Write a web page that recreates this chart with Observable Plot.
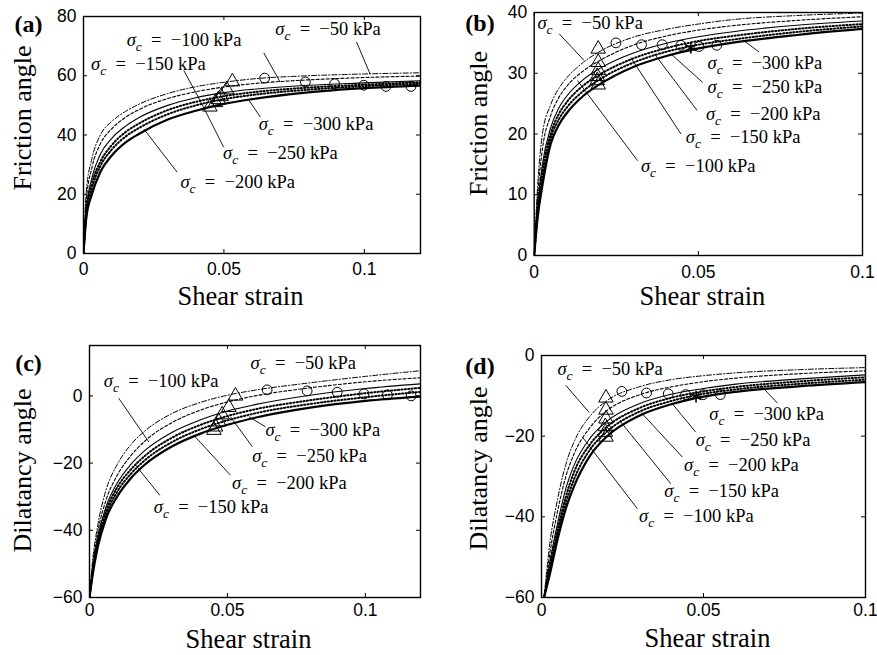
<!DOCTYPE html>
<html><head><meta charset="utf-8">
<script src="https://cdn.jsdelivr.net/npm/d3@7"></script>
<script src="https://cdn.jsdelivr.net/npm/@observablehq/plot@0.6"></script>
<style>
html,body{margin:0;padding:0;background:#fff;}
#wrap{position:relative;width:877px;height:655px;overflow:hidden;background:#fff;}
#wrap svg{position:absolute;overflow:visible;}
</style></head><body><div id="wrap"></div>
<script>
// ---------- data ----------
const sigmaLabels = ["σc\u2002=\u2002−50 kPa","σc\u2002=\u2002−100 kPa","σc\u2002=\u2002−150 kPa",
                     "σc\u2002=\u2002−200 kPa","σc\u2002=\u2002−250 kPa","σc\u2002=\u2002−300 kPa"];

// (a) friction angle, panel a
const xA = [0, 0.001, 0.003, 0.006, 0.01, 0.015, 0.02, 0.03, 0.04, 0.05, 0.06, 0.08, 0.1, 0.12];
const a50  = [0, 21, 32, 40, 44.5, 48, 50.5, 54, 56.3, 57.8, 58.9, 60, 60.6, 61];
const a100 = [0, 18, 29, 37, 42, 46, 48.7, 52.3, 54.6, 56.2, 57.3, 58.6, 59.4, 59.9];
const a150 = [0, 15, 25.5, 33.5, 38.8, 43, 46, 50, 52.6, 54.3, 55.4, 56.8, 57.6, 58.3];
const a200 = [0, 14, 23.5, 31, 36.5, 41, 44, 48.4, 51.2, 53.1, 54.4, 56, 57, 57.8];
const a250 = [0, 13, 22, 29.5, 35, 39.5, 42.5, 47, 50, 52.1, 53.5, 55.3, 56.5, 57.3];
const a300 = [0, 12, 20, 27.5, 33, 37.5, 40.5, 45.2, 48.2, 50.5, 52.1, 54.4, 55.8, 56.7];
const triA  = [[0.053,58],[0.051,55.3],[0.049,53],[0.048,52],[0.047,51],[0.045,49.5]];
const circA = [[0.0645,59.2],[0.079,57.9],[0.0894,57.3],[0.0998,56.8],[0.1077,56.4],[0.1166,56.4]];

// (b) friction angle, panel b
const xB = [0, 0.001, 0.0025, 0.005, 0.0075, 0.01, 0.015, 0.02, 0.03, 0.04, 0.05, 0.06, 0.08, 0.1];
const b50  = [0, 11, 20, 24.8, 27.5, 29.3, 31.8, 33.6, 35.9, 37.2, 38.1, 38.8, 39.5, 39.9];
const b100 = [0, 9.5, 17.5, 23, 26, 27.9, 30.4, 32.1, 34.6, 36.1, 37.1, 37.8, 38.7, 39.3];
const b150 = [0, 8, 15, 21, 24.3, 26.3, 29, 30.8, 33.3, 34.9, 36, 36.8, 37.9, 38.6];
const b200 = [0, 7.3, 13.8, 20, 23.3, 25.3, 28, 29.8, 32.4, 34.1, 35.3, 36.1, 37.3, 38.1];
const b250 = [0, 6.6, 12.6, 19.2, 22.4, 24.4, 27.1, 29, 31.7, 33.5, 34.7, 35.5, 36.8, 37.7];
const b300 = [0, 6, 11.5, 18.3, 21.5, 23.5, 26.3, 28.2, 31, 32.8, 34.1, 35, 36.3, 37.3];
const triB  = [[0.0195,34],[0.0195,31.8],[0.0195,30.5],[0.0192,29.5],[0.0192,28.8],[0.0195,28.1]];
const circB = [[0.0249,35],[0.0327,34.7],[0.039,34.7],[0.0447,34.6],[0.0502,34.4],[0.0556,34.6]];
const starB = [[0.0477,34.2]];

// (c) dilatancy angle, panel c
const xC = [0, 0.001, 0.003, 0.006, 0.01, 0.015, 0.02, 0.03, 0.04, 0.05, 0.06, 0.08, 0.1, 0.12];
const c50  = [-60, -50, -38.5, -28, -20.5, -14.5, -10.5, -5.2, -2, 0.2, 1.7, 3.9, 5.8, 7.5];
const c100 = [-60, -51.5, -40.5, -31, -23.7, -17.8, -13.5, -7.9, -4.3, -1.8, 0, 2.4, 4.2, 5.4];
const c150 = [-60, -52.5, -42, -33, -26, -20.4, -16.3, -10.8, -7.2, -4.5, -2.6, 0.2, 2.2, 3.6];
const c200 = [-60, -53, -43, -34.2, -27.3, -21.9, -17.9, -12.4, -8.7, -6, -4, -1.3, 0.8, 2.4];
const c250 = [-60, -53.5, -44, -35.3, -28.6, -23.2, -19.2, -13.7, -10, -7.3, -5.2, -2.4, -0.4, 1.2];
const c300 = [-60, -54, -45, -36.5, -30, -24.5, -20.5, -15, -11.3, -8.6, -6.5, -3.5, -1.5, -0.2];
const triC  = [[0.0529,0],[0.0505,-3.4],[0.0481,-5.6],[0.0469,-7.7],[0.0457,-9.2],[0.0451,-10.2]];
const circC = [[0.0644,1.8],[0.0789,1.5],[0.0898,1.1],[0.0995,0.6],[0.108,0.3],[0.1166,0]];

// (d) dilatancy angle, panel d
const xD = [0.0008, 0.0025, 0.005, 0.0075, 0.01, 0.015, 0.02, 0.03, 0.04, 0.05, 0.06, 0.08, 0.1];
const d50  = [-60, -47, -35.5, -27, -21.5, -15, -11.3, -7.8, -6, -5, -4.3, -3.5, -3.0];
const d100 = [-60, -49.5, -38.5, -30, -24.5, -17.8, -13.8, -9.8, -7.8, -6.5, -5.6, -4.5, -3.8];
const d150 = [-60, -51.5, -41.5, -33, -27.3, -20.5, -16.4, -12, -9.6, -8.2, -7.1, -5.8, -4.8];
const d200 = [-60, -52.5, -43, -35, -29, -22, -17.8, -13.1, -10.5, -8.9, -7.8, -6.4, -5.4];
const d250 = [-60, -53.5, -44, -36.5, -30.8, -23.3, -19, -14, -11.3, -9.5, -8.4, -7, -6.0];
const d300 = [-60, -54.5, -45.5, -38, -32.5, -24.8, -20.2, -15, -12.1, -10.2, -9.0, -7.6, -6.6];
const triD  = [[0.0199,-10.5],[0.0199,-13.5],[0.0199,-15.7],[0.0197,-17.6],[0.0197,-19],[0.0199,-20.2]];
const circD = [[0.0248,-8.9],[0.0324,-9.3],[0.0391,-9.5],[0.0445,-9.7],[0.0499,-9.7],[0.0552,-9.7]];
const starD = [[0.0477,-10.2]];

// tick values
const xTicksA = [0, 0.05, 0.1];
const yTicksA = [0, 20, 40, 60, 80];
const yTicksB = [0, 10, 20, 30, 40];
const yTicksC = [-60, -40, -20, 0];

// ---------- annotation placement (label anchor + leader line, data coords) ----------
const annA = [[0.0683,75.7,0.0972,71.4,0.102,60.7],[0.0154,72,0.0642,67.7,0.07,57.9],[0.0027,64.1,0.0357,61.8,0.0416,51.5],
              [0.0345,24.1,0.0333,27.5,0.0215,42],[0.0497,33.9,0.0499,35.9,0.0416,51.5],[0.0624,43.8,0.063,46,0.0588,51.9]];
const annB = [[0.001,38.2,0.0076,36.5,0.0152,32.1],[0.0325,14.8,0.0315,15.6,0.0132,28.8],[0.0462,19.5,0.0447,20,0.0294,32.6],
              [0.0523,23.2,0.0496,23.9,0.0366,33.2],[0.0528,27.8,0.0513,28.5,0.0416,33.2],[0.0528,31.6,0.0685,33.5,0.064,35.3]];
const annC = [[0.0584,9.8,null,null,null,null],[0.0052,4.3,0.0106,-0.7,0.0215,-13.7],[0.0233,-33.1,0.0255,-29.6,0.0167,-20.6],
              [0.0517,-25.8,0.0511,-23.6,0.0378,-11.7],[0.059,-17.9,0.059,-15.1,0.0511,-6.2],[0.0638,-10.2,0.0638,-9.2,0.0578,-6.2]];
const annD = [[0.0049,-3.3,0.0075,-7.4,0.0147,-14.1],[0.0301,-39.7,0.0296,-38,0.0127,-20.3],[0.0379,-33.5,0.0399,-31.8,0.0245,-16.5],
              [0.044,-27.1,0.0435,-25.2,0.0307,-14.1],[0.0476,-20.9,0.0476,-19,0.0404,-12],[0.0518,-14.5,0.0728,-11.8,0.0682,-7.9]];

// ---------- styles ----------
const lineStyles = [
  {w:1.0, dash:"5,2,1.2,2"},
  {w:1.1, dash:"3,2"},
  {w:1.1, dash:null},
  {w:2.0, dash:"1.2,2.2"},
  {w:2.0, dash:"1.2,2.2"},
  {w:2.2, dash:null}
];
const SERIF = "'Liberation Serif','Times New Roman',serif";
const SANS = "'Liberation Sans',Arial,Helvetica,sans-serif";
const fmt = d => d < 0 ? "−" + (-d) : String(d);

function panel(cfg) {
  const m = cfg.margins;
  const fw = cfg.width - m.left - m.right;
  const fh = cfg.height - m.top - m.bottom;
  const marks = [];
  cfg.curves.forEach((ys, i) => {
    const st = lineStyles[i];
    const rows = cfg.curveX.map((x, j) => ({x, y: ys[j]}));
    marks.push(Plot.line(rows, {x: "x", y: "y", stroke: "black", strokeWidth: st.w,
      strokeDasharray: st.dash, curve: "monotone-x", clip: true}));
  });
  const pt = {x: d => d[0], y: d => d[1], stroke: "black", fill: "none", strokeWidth: 1};
  marks.push(Plot.dot(cfg.tri, {...pt, symbol: "triangle", r: 5.4}));
  marks.push(Plot.dot(cfg.circ, {...pt, symbol: "circle", r: 4.9}));
  if (cfg.star) marks.push(Plot.dot(cfg.star, {...pt, symbol: "asterisk", r: 5.5, strokeWidth: 1.6}));
  // leaders + labels
  const ann = cfg.ann.map((a, i) => ({x: a[0], y: a[1], x1: a[2], y1: a[3], x2: a[4], y2: a[5], t: sigmaLabels[i]}));
  marks.push(Plot.link(ann.filter(d => d.x1 != null), {x1: "x1", y1: "y1", x2: "x2", y2: "y2", stroke: "black", strokeWidth: 0.9}));
  marks.push(Plot.text(ann, {x: "x", y: "y", text: "t", textAnchor: "start", lineAnchor: "middle",
    fontFamily: SERIF, fontSize: 18.5, fill: "black"}));
  // frame, inward ticks
  marks.push(Plot.frame({stroke: "black", strokeWidth: 1.4}));
  marks.push(Plot.tickX(cfg.xTicks, {x: d => d, insetTop: fh - 4, stroke: "black"}));
  marks.push(Plot.tickX(cfg.xTicks, {x: d => d, insetBottom: fh - 4, stroke: "black"}));
  marks.push(Plot.tickY(cfg.yTicks, {y: d => d, insetRight: fw - 4, stroke: "black"}));
  marks.push(Plot.tickY(cfg.yTicks, {y: d => d, insetLeft: fw - 4, stroke: "black"}));
  // tick labels
  marks.push(Plot.axisX(cfg.xTicks, {tickSize: 0, tickPadding: cfg.xPad, tickFormat: fmt, label: null,
    fontSize: 17.5, fontFamily: SANS, fill: "black"}));
  marks.push(Plot.axisY(cfg.yTicks, {tickSize: 0, tickPadding: 7, tickFormat: fmt, label: null,
    fontSize: 17.5, fontFamily: SANS, fill: "black"}));
  // axis titles and panel tag
  marks.push(Plot.text(["Shear strain"], {text: d => d, frameAnchor: "bottom", dx: cfg.xlab[0], dy: cfg.xlab[1],
    lineAnchor: "middle", fontFamily: SERIF, fontSize: 26.5, fill: "black"}));
  marks.push(Plot.text([cfg.ylabel], {text: d => d, frameAnchor: "left", rotate: -90, dx: cfg.ylab[0], dy: cfg.ylab[1],
    lineAnchor: "middle", textAnchor: "middle", fontFamily: SERIF, fontSize: 26, fill: "black"}));
  marks.push(Plot.text([cfg.tag], {text: d => d, frameAnchor: "top-left", dx: cfg.tagPos[0], dy: cfg.tagPos[1],
    lineAnchor: "middle", textAnchor: "middle", fontFamily: SERIF, fontWeight: "bold", fontSize: 24, fill: "black"}));

  const svg = Plot.plot({
    width: cfg.width, height: cfg.height,
    marginLeft: m.left, marginRight: m.right, marginTop: m.top, marginBottom: m.bottom,
    x: {domain: cfg.xDomain, label: null},
    y: {domain: cfg.yDomain, label: null},
    style: {background: "transparent", overflow: "visible", fontFamily: SANS},
    marks
  });
  svg.style.left = cfg.left + "px";
  svg.style.top = cfg.top + "px";
  // typeset σ_c with an italic sigma and subscript c
  d3.select(svg).selectAll("text").each(function() {
    const t = this.textContent;
    if (t.startsWith("σc")) {
      const el = d3.select(this);
      el.text(null);
      el.append("tspan").attr("font-style", "italic").text("σ");
      el.append("tspan").attr("font-style", "italic").attr("font-size", "13.5px").attr("dy", 5).text("c");
      el.append("tspan").attr("dy", -5).text(t.slice(2));
    }
  });
  document.getElementById("wrap").appendChild(svg);
}

panel({left: 0, top: 0, width: 438, height: 320, margins: {left: 83, right: 18, top: 16, bottom: 67},
  xDomain: [0, 0.12], yDomain: [0, 80], xTicks: xTicksA, yTicks: yTicksA, xPad: 9,
  curveX: xA, curves: [a50, a100, a150, a200, a250, a300], tri: triA, circ: circA, ann: annA,
  ylabel: "Friction angle", ylab: [-61, -17], xlab: [-11.5, 43.5], tag: "(a)", tagPos: [-55, 8]});

panel({left: 438, top: 0, width: 439, height: 320, margins: {left: 95.7, right: 15, top: 12, bottom: 65},
  xDomain: [0, 0.1], yDomain: [0, 40], xTicks: xTicksA, yTicks: yTicksB, xPad: 10,
  curveX: xB, curves: [b50, b100, b150, b200, b250, b300], tri: triB, circ: circB, star: starB, ann: annB,
  ylabel: "Friction angle", ylab: [-55.7, -10.5], xlab: [4, 41.5], tag: "(b)", tagPos: [-54.2, 11]});

panel({left: 0, top: 320, width: 438, height: 335, margins: {left: 89, right: 18, top: 25, bottom: 58},
  xDomain: [0, 0.12], yDomain: [-60, 15], xTicks: xTicksA, yTicks: yTicksC, xPad: 6,
  curveX: xC, curves: [c50, c100, c150, c200, c250, c300], tri: triC, circ: circC, ann: annC,
  ylabel: "Dilatancy angle", ylab: [-67, -1], xlab: [-6.5, 42], tag: "(c)", tagPos: [-61, 18]});

panel({left: 438, top: 320, width: 439, height: 335, margins: {left: 103, right: 12, top: 35, bottom: 58},
  xDomain: [0, 0.1], yDomain: [-60, 0], xTicks: xTicksA, yTicks: yTicksC, xPad: 6,
  curveX: xD, curves: [d50, d100, d150, d200, d250, d300], tri: triD, circ: circD, star: starD, ann: annD,
  ylabel: "Dilatancy angle", ylab: [-63, -8], xlab: [4, 41], tag: "(d)", tagPos: [-61.5, 11]});
</script>
</body></html>
